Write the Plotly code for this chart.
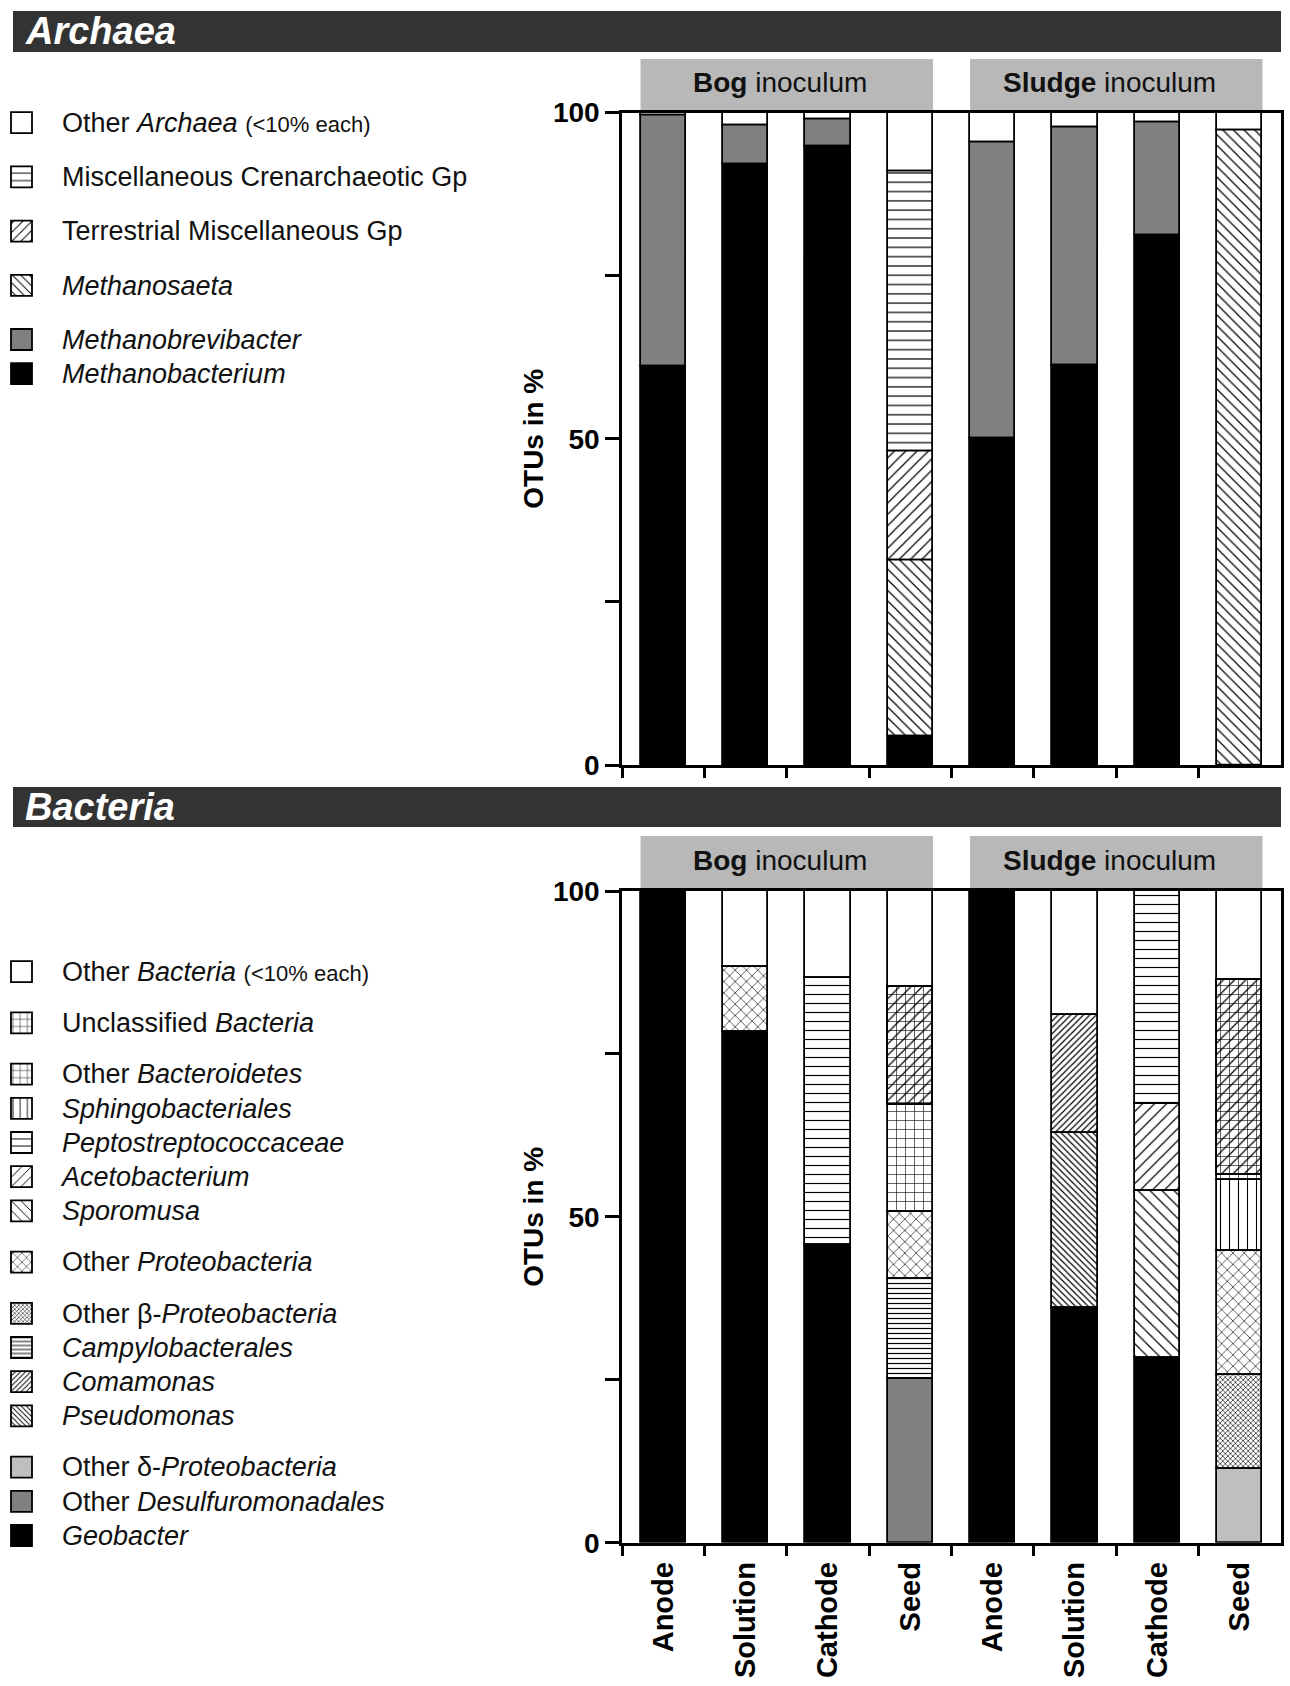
import numpy as np
import plotly.graph_objects as go

# ---------------- data (percent of OTUs) ----------------
samples = ["Bog Anode", "Bog Solution", "Bog Cathode", "Bog Seed",
           "Sludge Anode", "Sludge Solution", "Sludge Cathode", "Sludge Seed"]
sample_labels = ["Anode", "Solution", "Cathode", "Seed",
                 "Anode", "Solution", "Cathode", "Seed"]
inocula = ["Bog", "Sludge"]

# Archaea, listed bottom -> top of each stack
methanobacterium = [61.0, 92.0, 94.8, 4.3, 50.1, 61.3, 81.2, 0.0]
methanobrevibacter = [38.5, 6.0, 4.1, 0.0, 45.3, 36.4, 17.3, 0.0]
methanosaeta = [0.0, 0.0, 0.0, 27.1, 0.0, 0.0, 0.0, 97.3]
terrestrial_misc = [0.0, 0.0, 0.0, 16.6, 0.0, 0.0, 0.0, 0.0]
misc_crenarchaeotic = [0.0, 0.0, 0.0, 42.9, 0.0, 0.0, 0.0, 0.0]
other_archaea = [0.5, 2.0, 1.1, 9.1, 4.6, 2.3, 1.5, 2.7]

# Bacteria, listed bottom -> top of each stack
geobacter = [100.0, 78.4, 45.7, 0.0, 100.0, 36.0, 28.4, 0.0]
other_desulfuromonadales = [0.0, 0.0, 0.0, 25.1, 0.0, 0.0, 0.0, 0.0]
other_delta = [0.0, 0.0, 0.0, 0.0, 0.0, 0.0, 0.0, 11.3]
pseudomonas = [0.0, 0.0, 0.0, 0.0, 0.0, 26.8, 0.0, 0.0]
comamonas = [0.0, 0.0, 0.0, 0.0, 0.0, 18.1, 0.0, 0.0]
campylobacterales = [0.0, 0.0, 0.0, 15.4, 0.0, 0.0, 0.0, 0.0]
other_beta = [0.0, 0.0, 0.0, 0.0, 0.0, 0.0, 0.0, 14.5]
other_proteobacteria = [0.0, 9.9, 0.0, 10.2, 0.0, 0.0, 0.0, 19.0]
sporomusa = [0.0, 0.0, 0.0, 0.0, 0.0, 0.0, 25.5, 0.0]
acetobacterium = [0.0, 0.0, 0.0, 0.0, 0.0, 0.0, 13.4, 0.0]
peptostreptococcaceae = [0.0, 0.0, 41.0, 0.0, 0.0, 0.0, 32.7, 0.0]
sphingobacteriales = [0.0, 0.0, 0.0, 0.0, 0.0, 0.0, 0.0, 10.8]
other_bacteroidetes = [0.0, 0.0, 0.0, 16.5, 0.0, 0.0, 0.0, 0.8]
unclassified_bacteria = [0.0, 0.0, 0.0, 18.1, 0.0, 0.0, 0.0, 30.0]
other_bacteria = [0.0, 11.7, 13.3, 14.7, 0.0, 19.1, 0.0, 13.6]

# ---------------- styling ----------------
FONT = "Liberation Sans, Arial, Helvetica, sans-serif"
W, H = 1290, 1686
BAR_W = 0.55
LINE_W = 1.8


def big(txt):
    return "<span style='font-size:27px'>" + txt + "</span>"


# (label, values, legend group, fill spec)  -- legend order (top -> bottom)
archaea_series = [
    (big("Other <i>Archaea</i> <span style='font-size:22px'>(&lt;10% each)</span>"), other_archaea, "a1",
     dict(color="white")),
    (big("Miscellaneous Crenarchaeotic Gp"), misc_crenarchaeotic, "a2",
     dict(color="white", shape="-", size=9.3, solidity=0.13)),
    (big("Terrestrial Miscellaneous Gp"), terrestrial_misc, "a3",
     dict(color="white", shape="/", size=8, solidity=0.15)),
    (big("<i>Methanosaeta</i>"), methanosaeta, "a4",
     dict(color="white", shape="\\", size=7.5, solidity=0.16)),
    (big("<i>Methanobrevibacter</i>"), methanobrevibacter, "a5",
     dict(color="#808080")),
    (big("<i>Methanobacterium</i>"), methanobacterium, "a5",
     dict(color="black")),
]

bacteria_series = [
    (big("Other <i>Bacteria</i> <span style='font-size:22px'>(&lt;10% each)</span>"), other_bacteria, "b1",
     dict(color="white")),
    (big("Unclassified <i>Bacteria</i>"), unclassified_bacteria, "b2",
     dict(color="white", shape="+", size=9, solidity=0.13, extra=dict(shape="/", size=8, solidity=0.15))),
    (big("Other <i>Bacteroidetes</i>"), other_bacteroidetes, "b3",
     dict(color="white", shape="+", size=9, solidity=0.13)),
    (big("<i>Sphingobacteriales</i>"), sphingobacteriales, "b3",
     dict(color="white", shape="|", size=9, solidity=0.12)),
    (big("<i>Peptostreptococcaceae</i>"), peptostreptococcaceae, "b3",
     dict(color="white", shape="-", size=9, solidity=0.13)),
    (big("<i>Acetobacterium</i>"), acetobacterium, "b3",
     dict(color="white", shape="/", size=8.5, solidity=0.14)),
    (big("<i>Sporomusa</i>"), sporomusa, "b3",
     dict(color="white", shape="\\", size=8.5, solidity=0.14)),
    (big("Other <i>Proteobacteria</i>"), other_proteobacteria, "b4",
     dict(color="white", shape="x", size=8, solidity=0.15)),
    (big("Other β-<i>Proteobacteria</i>"), other_beta, "b5",
     dict(color="white", shape="x", size=3.6, solidity=0.32)),
    (big("<i>Campylobacterales</i>"), campylobacterales, "b5",
     dict(color="white", shape="-", size=5, solidity=0.24)),
    (big("<i>Comamonas</i>"), comamonas, "b5",
     dict(color="white", shape="/", size=4.5, solidity=0.27)),
    (big("<i>Pseudomonas</i>"), pseudomonas, "b5",
     dict(color="white", shape="\\", size=4.5, solidity=0.27)),
    (big("Other δ-<i>Proteobacteria</i>"), other_delta, "b6",
     dict(color="#bfbfbf")),
    (big("Other <i>Desulfuromonadales</i>"), other_desulfuromonadales, "b6",
     dict(color="#808080")),
    (big("<i>Geobacter</i>"), geobacter, "b6",
     dict(color="black")),
]

fig = go.Figure()


def add_stack(series, xaxis, yaxis, legend):
    # bases: cumulative sum of everything listed below (later in the list)
    n = len(samples)
    bases = []
    cum = np.zeros(n)
    for _, vals, _, _ in reversed(series):
        bases.append(cum.copy())
        cum = cum + np.array(vals, dtype=float)
    bases = bases[::-1]
    for (label, vals, grp, spec), base in zip(series, bases):
        y = [v if v > 0 else None for v in vals]
        marker = dict(color=spec["color"], line=dict(color="black", width=LINE_W))
        if "shape" in spec:
            marker["pattern"] = dict(shape=spec["shape"], size=spec["size"], solidity=spec["solidity"],
                                     fgcolor="black", bgcolor="white", fillmode="replace")
        fig.add_trace(go.Bar(
            x=samples, y=y, base=base, width=BAR_W, name=label,
            legendgroup=grp, legend=legend, marker=marker,
            xaxis=xaxis, yaxis=yaxis, hoverinfo="skip",
        ))
        if "extra" in spec:
            ex = spec["extra"]
            fig.add_trace(go.Bar(
                x=samples, y=y, base=base, width=BAR_W, name=label, showlegend=False,
                legendgroup=grp, legend=legend,
                marker=dict(color="rgba(0,0,0,0)", line=dict(color="black", width=LINE_W),
                            pattern=dict(shape=ex["shape"], size=ex["size"], solidity=ex["solidity"],
                                         fgcolor="black", bgcolor="rgba(0,0,0,0)", fillmode="replace")),
                xaxis=xaxis, yaxis=yaxis, hoverinfo="skip",
            ))


add_stack(archaea_series, "x", "y", "legend")
add_stack(bacteria_series, "x2", "y2", "legend2")


def py(px):
    return 1 - px / H


def pxx(px):
    return px / W


x_dom = [pxx(622), pxx(1281)]
top_dom = [py(765), py(112.5)]
bot_dom = [py(1542.7), py(891)]

axis_common = dict(showline=True, linecolor="black", linewidth=2.6, mirror=True,
                   showgrid=False, zeroline=False, automargin=False)

xcommon = dict(axis_common, type="category", categoryorder="array", categoryarray=samples,
               range=[-0.5, 7.5], tickmode="array", tickvals=samples, ticktext=sample_labels,
               tickson="boundaries", ticks="outside", ticklen=10, tickwidth=2.6, tickcolor="black",
               tickangle=-90, tickfont=dict(family=FONT, size=29, color="black", weight="bold"),
               ticklabelstandoff=5)
ycommon = dict(axis_common, range=[0, 100], tickmode="array", tickvals=[0, 25, 50, 75, 100],
               ticktext=["0", "", "50", "", "100"], ticks="outside", ticklen=14, tickwidth=2.6,
               tickcolor="black", tickfont=dict(family=FONT, size=28, color="black", weight="bold"),
               ticklabelstandoff=0)

fig.update_layout(
    width=W, height=H, margin=dict(l=0, r=0, t=0, b=0),
    template="none", paper_bgcolor="white", plot_bgcolor="white",
    font=dict(family=FONT, color="black"),
    barmode="overlay", bargap=0, showlegend=True,
    xaxis=dict(xcommon, domain=x_dom, anchor="y", showticklabels=False),
    yaxis=dict(ycommon, domain=top_dom, anchor="x"),
    xaxis2=dict(xcommon, domain=x_dom, anchor="y2"),
    yaxis2=dict(ycommon, domain=bot_dom, anchor="x2"),
    legend=dict(x=0, y=py(100.6), xanchor="left", yanchor="top", traceorder="grouped",
                tracegroupgap=20, itemwidth=52, bgcolor="rgba(0,0,0,0)", borderwidth=0,
                font=dict(family=FONT, size=24, color="#111111")),
    legend2=dict(x=0, y=py(949.6), xanchor="left", yanchor="top", traceorder="grouped",
                 tracegroupgap=17, itemwidth=52, bgcolor="rgba(0,0,0,0)", borderwidth=0,
                 font=dict(family=FONT, size=24, color="#111111")),
)

shapes = []
annotations = []
# section header bars
for top, bottom, title in [(11, 52, "Archaea"), (787, 827, "Bacteria")]:
    shapes.append(dict(type="rect", xref="paper", yref="paper", x0=pxx(13), x1=pxx(1281),
                       y0=py(bottom), y1=py(top), fillcolor="#333333", line=dict(width=0), layer="below"))
    annotations.append(dict(text="<b><i>" + title + "</i></b>", xref="paper", yref="paper",
                            x=pxx(23), y=py((top + bottom) / 2), xanchor="left", yanchor="middle",
                            showarrow=False, font=dict(family=FONT, size=38, color="white")))

# inoculum header boxes over each half of the bars
for xref, top, bottom in [("x", 59, 112.5), ("x2", 836, 891)]:
    for i, inoc in enumerate(inocula):
        first, last = 4 * i, 4 * i + 3
        shapes.append(dict(type="rect", xref=xref, yref="paper",
                           x0=first - BAR_W / 2, x1=last + BAR_W / 2,
                           y0=py(bottom), y1=py(top), fillcolor="#b8b8b8",
                           line=dict(width=0), layer="below"))
        annotations.append(dict(text="<b>" + inoc + "</b> inoculum", xref=xref, yref="paper",
                                x=(first + last) / 2 - 0.08, y=py((top + bottom) / 2 - 3),
                                xanchor="center", yanchor="middle", showarrow=False,
                                font=dict(family=FONT, size=28, color="#111111")))

# y-axis titles
for dom in [top_dom, bot_dom]:
    annotations.append(dict(text="<b>OTUs in %</b>", xref="paper", yref="paper",
                            x=pxx(534), y=(dom[0] + dom[1]) / 2, textangle=-90,
                            xanchor="center", yanchor="middle", showarrow=False,
                            font=dict(family=FONT, size=28, color="black")))

fig.update_layout(shapes=shapes, annotations=annotations)

# page styling: no body margin; legend swatches drawn at the reference's 21 px size
post = """
document.body.style.margin = '0';
var gd = document.getElementById('{plot_id}');
function bigSwatches() {
  gd.querySelectorAll('.legendpoints path').forEach(function (p) {
    p.setAttribute('d', 'M-20,-10.5H1V10.5H-20Z');
  });
}
bigSwatches();
gd.on('plotly_afterplot', bigSwatches);
"""

fig.write_html("out.html", config={"displayModeBar": False}, post_script=post)
